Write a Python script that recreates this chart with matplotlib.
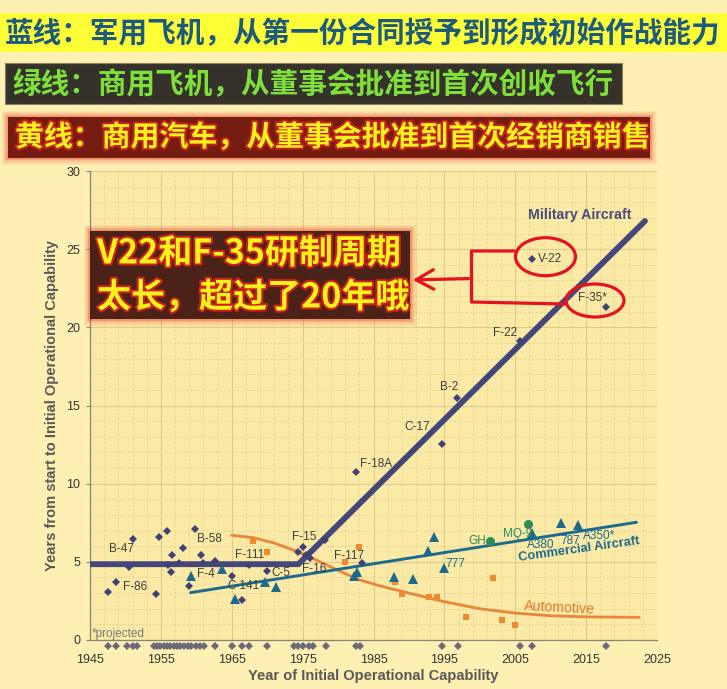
import numpy as np
import matplotlib
matplotlib.use('Agg')
import matplotlib.pyplot as plt
from matplotlib.patches import Rectangle, Ellipse, FancyArrowPatch
from matplotlib.lines import Line2D
import matplotlib.patheffects as pe

plt.rcParams['font.family'] = ['Liberation Sans', 'Noto Sans CJK SC', 'DejaVu Sans']

# military aircraft: years from contract to IOC
mil_x = [1947.5, 1948.7, 1950.5, 1951.0, 1954.3, 1954.7, 1955.8, 1956.0, 1956.4, 1956.6,
         1957.6, 1958.1, 1958.9, 1959.8, 1960.6, 1961.0, 1962.7, 1965.0, 1966.4, 1967.4,
         1970.0, 1974.3, 1975.1, 1975.5, 1976.0, 1978.2, 1982.6, 1983.4, 1994.6, 1996.8,
         2005.6, 2007.4, 2017.8]
mil_y = [3.05, 3.7, 4.65, 6.48, 2.94, 6.59, 7.0, 4.8, 4.37, 5.46,
         4.95, 5.87, 3.46, 7.1, 5.42, 4.95, 5.05, 4.1, 2.56, 4.78,
         4.44, 5.61, 5.97, 5.45, 5.22, 6.4, 10.77, 4.9, 12.54, 15.48,
         19.15, 24.4, 21.3]
mil_names = ['B-47', 'F-86', 'B-58', 'F-111', 'F-4', 'C-141', 'C-5', 'F-15', 'F-16', 'F-117',
             'F-18A', 'C-17', 'B-2', 'F-22', 'V-22', 'F-35*']
mil_name_x = [1949.4, 1951.4, 1961.8, 1967.5, 1961.4, 1966.7, 1972.0, 1975.2, 1976.6, 1981.5,
              1985.3, 1991.1, 1995.7, 2003.5, 2009.9, 2015.9]
mil_name_y = [5.82, 3.41, 6.44, 5.44, 4.22, 3.45, 4.27, 6.57, 4.54, 5.37,
              11.26, 13.65, 16.17, 19.66, 24.38, 21.86]
mil_fit_x = [1945, 1974.4, 2023.3]
mil_fit_y = [4.85, 4.85, 26.8]

# IOC years shown along the bottom
ioc_years = [1947.5, 1948.7, 1950.2, 1951.0, 1951.6, 1954.0, 1954.5, 1954.9, 1955.4, 1955.9,
             1956.3, 1956.8, 1957.3, 1957.7, 1958.3, 1958.8, 1959.3, 1959.9, 1960.5, 1961.1,
             1962.7, 1965.0, 1966.4, 1967.4, 1970.0, 1973.8, 1974.4, 1975.1, 1975.9, 1976.5,
             1978.3, 1982.5, 1983.1, 1994.7, 1996.9, 2005.6, 2007.4, 2017.8]

# commercial aircraft
com_x = [1959.3, 1963.6, 1965.5, 1969.7, 1971.2, 1982.3, 1982.7, 1987.9, 1990.6, 1992.7,
         1993.6, 1995.0, 2007.3, 2011.4, 2013.9]
com_y = [4.12, 4.56, 2.64, 3.73, 3.41, 4.1, 4.37, 4.05, 3.92, 5.72,
         6.57, 4.59, 6.87, 7.5, 7.38]
com_names = ['777', 'A380', '787', 'A350*']
com_name_x = [1996.6, 2008.6, 2012.7, 2016.8]
com_name_y = [4.86, 6.08, 6.35, 6.67]
com_fit_x = [1959.2, 2022.1]
com_fit_y = [3.03, 7.53]

# UAVs
uav_x = [2001.4, 2006.8]
uav_y = [6.35, 7.4]
uav_names = ['GH', 'MQ-9']
uav_name_x = [1999.6, 2005.3]
uav_name_y = [6.35, 6.78]

# automotive
auto_x = [1968.0, 1970.0, 1981.0, 1982.9, 1988.0, 1989.0, 1992.9, 1994.0, 1998.0, 2001.9,
          2003.1, 2005.0]
auto_y = [6.35, 5.65, 5.01, 5.97, 3.71, 2.94, 2.77, 2.77, 1.49, 3.97, 1.3, 0.98]
auto_fit_x = [1965, 1968, 1971, 1974, 1977, 1980, 1983, 1986, 1990, 1995, 2000, 2005, 2010, 2015, 2022.5]
auto_fit_y = [6.7, 6.55, 6.2, 5.7, 5.1, 4.45, 3.85, 3.45, 3.0, 2.45, 2.0, 1.72, 1.55, 1.48, 1.45]

W, H = 727, 689
fig = plt.figure(figsize=(W / 100, H / 100), dpi=100)
fig.patch.set_facecolor('#fdf0b2')


def P(x, y):
    # pixel position (from top-left) -> figure fraction
    return (x / W, 1 - y / H)


ax = fig.add_axes([90 / W, 1 - 640 / H, 567 / W, 469 / H])
ax.set_facecolor('#fbe9a6')
ax.set_xlim(1945, 2025)
ax.set_ylim(0, 30)
ax.set_xticks(np.arange(1945, 2026, 10))
ax.set_xticks(np.arange(1945, 2026, 2), minor=True)
ax.set_yticks(np.arange(0, 31, 5))
ax.set_yticks(np.arange(0, 31, 1), minor=True)
ax.grid(which='major', color='#dccb8c', lw=0.8, ls='-')
ax.grid(which='minor', color='#e6d595', lw=0.6, ls=(0, (3, 2)))
ax.set_axisbelow(True)
for s in ['top', 'right']:
    ax.spines[s].set_visible(False)
for s in ['left', 'bottom']:
    ax.spines[s].set_color('#8a8373')
    ax.spines[s].set_linewidth(0.9)
ax.tick_params(which='minor', length=0)
ax.tick_params(axis='x', which='major', length=0, pad=10, labelsize=9, colors='#333333')
ax.tick_params(axis='y', which='major', length=3, pad=4, labelsize=9, colors='#333333')
ax.tick_params(axis='y', which='major', color='#8a8373')

ax.set_ylabel('Years from start to Initial Operational Capability', fontsize=10.5,
              fontweight='bold', color='#5a5858', labelpad=5)
ax.set_xlabel('Year of Initial Operational Capability', fontsize=10.5,
              fontweight='bold', color='#5a5858', labelpad=2)

# trend lines
ax.plot(auto_fit_x, auto_fit_y, color='#e8873a', lw=2.0, solid_capstyle='round', zorder=2)
ax.plot(com_fit_x, com_fit_y, color='#1d6a8c', lw=2.1, solid_capstyle='round', zorder=2)
ax.plot(mil_fit_x, mil_fit_y, color='#45477a', lw=4.2, solid_capstyle='round',
        solid_joinstyle='round', zorder=3)

# points
ax.plot(auto_x, auto_y, 's', color='#f08a32', ms=5, mew=0, zorder=4)
ax.plot(com_x, com_y, '^', color='#1d6a8c', ms=6.5, mew=0, zorder=4)
ax.plot(uav_x, uav_y, 'o', color='#2f8a5c', ms=6.5, mew=0, zorder=4)
ax.plot(mil_x, mil_y, 'D', color='#404273', ms=4.3, mew=0, zorder=5)
ax.plot(ioc_years, [-0.4] * len(ioc_years), 'D', color='#6c6878', ms=4.3, mew=0,
        clip_on=False, zorder=5)

for n, x, y in zip(mil_names, mil_name_x, mil_name_y):
    ax.text(x, y, n, fontsize=8.5, color='#3d3d3d', ha='center', va='center', zorder=6)
for n, x, y in zip(com_names, com_name_x, com_name_y):
    ax.text(x, y, n, fontsize=8.5, color='#1d6a8c', ha='center', va='center', zorder=6)
for n, x, y in zip(uav_names, uav_name_x, uav_name_y):
    ax.text(x, y, n, fontsize=8.5, color='#2f8a5c', ha='center', va='center', zorder=6)

ax.text(2014.1, 27.2, 'Military Aircraft', fontsize=10.2, fontweight='bold',
        color='#4a4c7e', ha='center', va='center')
ax.text(2014.0, 5.76, 'Commercial Aircraft', fontsize=9.3, fontweight='bold',
        color='#1d6a8c', ha='center', va='center', rotation=8)
ax.text(2011.3, 2.03, 'Automotive', fontsize=10.2, color='#e07a30',
        ha='center', va='center', rotation=-3)
ax.text(1945.3, 0.38, '*projected', fontsize=8.5, color='#7a7a7a', ha='left', va='center')

# ---- banners ----
cjk = ['Noto Sans CJK SC', 'DejaVu Sans']


def glow(c):
    return [pe.Stroke(linewidth=9, foreground=c, alpha=0.10),
            pe.Stroke(linewidth=6, foreground=c, alpha=0.15),
            pe.Stroke(linewidth=3, foreground=c, alpha=0.3),
            pe.Normal()]


fig.add_artist(Rectangle(P(0, 52), 1, 39 / H, transform=fig.transFigure,
                         fc='#ffff38', ec='none', zorder=1))
fig.text(*P(5, 33), '蓝线：军用飞机，从第一份合同授予到形成初始作战能力',
         family=cjk, fontsize=20.6, fontweight='heavy', color='#1d5a7c',
         ha='left', va='center')

fig.add_artist(Rectangle(P(5, 104), 617 / W, 41 / H, transform=fig.transFigure,
                         fc='#34322a', ec='#8a8060', lw=0.8, zorder=1))
fig.text(*P(12, 84), '绿线：商用飞机，从董事会批准到首次创收飞行',
         family=cjk, fontsize=20.6, fontweight='heavy', color='#80e03a',
         ha='left', va='center')

fig.add_artist(Rectangle(P(8, 158), 642 / W, 41 / H, transform=fig.transFigure,
                         fc='#741c10', ec='none', zorder=1, path_effects=glow('#f03a2a')))
fig.text(*P(15, 137), '黄线：商用汽车，从董事会批准到首次经销商销售',
         family=cjk, fontsize=20.8, fontweight='heavy', color='#fff21a',
         ha='left', va='center',
         path_effects=[pe.withStroke(linewidth=3, foreground='#c0201a')])

# callout box
fig.add_artist(Rectangle(P(90, 319), 320 / W, 88 / H, transform=fig.transFigure,
                         fc='#4a2218', ec='none', zorder=6, path_effects=glow('#f03a2a')))
txt_fx = [pe.withStroke(linewidth=3, foreground='#c8201a')]
fig.text(*P(97, 253), 'V22和F-35研制周期', family=cjk, fontsize=24.5,
         fontweight='heavy', color='#fff21a', ha='left', va='center', zorder=7,
         path_effects=txt_fx)
fig.text(*P(97, 297), '太长，超过了20年哦', family=cjk, fontsize=24.5,
         fontweight='heavy', color='#fff21a', ha='left', va='center', zorder=7,
         path_effects=txt_fx)

# red marks around V-22 and F-35
red = '#e5121f'
fig.add_artist(Ellipse(P(545.5, 256.7), 60 / W, 38 / H, transform=fig.transFigure,
                       fc='none', ec=red, lw=2.3, zorder=8))
fig.add_artist(Ellipse(P(595, 300.5), 58 / W, 33 / H, transform=fig.transFigure,
                       fc='none', ec=red, lw=2.3, zorder=8))
bx = [514, 471.5, 471.5, 564]
by = [251, 251, 302, 304]
fig.add_artist(Line2D([x / W for x in bx], [1 - y / H for y in by],
                      transform=fig.transFigure, color=red, lw=2.3, zorder=8))
fig.add_artist(FancyArrowPatch(P(471.5, 278.5), P(410, 280), transform=fig.transFigure,
                               arrowstyle='->,head_length=0.9,head_width=0.5',
                               mutation_scale=14, color=red, lw=2.3, zorder=8))

fig.savefig('out.png', dpi=100, facecolor=fig.get_facecolor())
